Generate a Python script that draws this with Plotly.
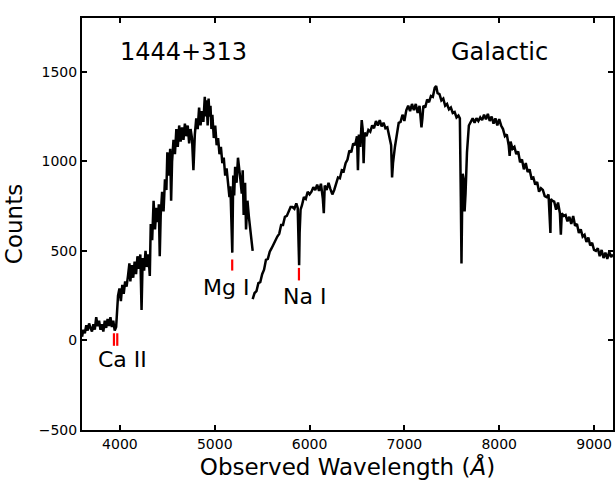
import plotly.graph_objects as go

# ---- Spectrum data ----
seg1_wave = [3600,3615,3630,3645,3660,3675,3690,3705,3720,3735,3750,3765,3780,3795,3810,3825,3840,3855,3870,3885,
             3900,3915,3930,3945,3960,3970,3980,3995,4010,4025,4040,4055,4070,4085,4100,4110,4125,4140,4155,4170,
             4185,4200,4215,4228,4240,4255,4270,4285,4300,4315,4325,4340,4355,4370,4385,4400,4410,4420,4430,4445,
             4460,4475,4490,4500,4515,4530,4540,4550,4565,4580,4595,4610,4625,4640,4655,4670,4685,4700,4715,4730,
             4745,4760,4775,4790,4805,4820,4835,4850,4865,4880,4895,4905,4915,4925,4935,4945,4955,4965,4975,4990,
             5005,5020,5035,5050,5065,5080,5095,5110,5125,5140,5155,5165,5175,5185,5195,5205,5215,5230,5245,5255,
             5270,5285,5295,5305,5320,5330,5345,5360,5375,5390,5400]
seg1_counts = [20,60,40,85,55,95,70,50,90,60,130,80,110,60,90,50,110,70,120,80,
               130,75,110,55,75,150,250,290,220,310,260,330,300,360,430,330,420,350,440,370,
               470,400,480,170,460,390,500,410,480,360,650,560,780,620,740,660,760,470,700,830,
               720,900,840,1050,920,1070,780,1000,1120,1040,1180,1080,1200,1110,1190,1120,1210,1140,1200,1100,
               1180,1130,950,1150,1240,1180,1300,1200,1280,1220,1360,1250,1340,1200,1350,1250,1310,1180,1260,1130,
               1200,1090,1130,1040,1080,990,1020,920,960,880,800,860,600,490,920,810,970,880,1020,950,
               900,820,950,700,880,620,780,690,620,560,500]

seg2_wave = [5400,5420,5440,5460,5480,5500,5520,5540,5560,5580,5600,5620,5640,5660,5680,5700,5720,5740,5760,5780,
             5800,5820,5840,5860,5875,5885,5890,5895,5905,5920,5940,5960,5980,6000,6020,6040,6060,6080,6100,6120,
             6140,6150,6160,6180,6200,6220,6240,6260,6280,6300,6320,6340,6360,6380,6400,6420,6440,6460,6480,6500,
             6510,6520,6535,6550,6560,6570,6580,6600,6620,6640,6660,6680,6700,6720,6740,6760,6780,6800,6820,6840,
             6860,6870,6880,6900,6920,6940,6960,6980,7000,7020,7040,7060,7080,7100,7120,7140,7160,7180,7190,7200,
             7220,7240,7260,7280,7300,7320,7335,7350,7370,7390,7410,7430,7450,7470,7490,7510,7530,7550,7570,7585,
             7595,7602,7608,7615,7625,7635,7645,7660,7680,7700,7720,7740,7760,7780,7800,7820,7840,7860,7880,7900,
             7920,7940,7960,7980,8000,8020,8040,8060,8080,8100,8110,8120,8140,8160,8180,8200,8220,8240,8260,8280,
             8300,8320,8340,8360,8380,8400,8420,8440,8460,8480,8500,8520,8535,8540,8545,8560,8580,8600,8620,8640,
             8650,8660,8680,8700,8720,8740,8760,8780,8800,8820,8840,8860,8880,8900,8920,8940,8960,8980,9000,9020,
             9040,9060,9080,9100,9120,9140,9160,9180,9200]
seg2_counts = [230,265,275,320,325,370,395,450,455,495,515,540,555,580,595,645,645,690,695,725,
               745,745,735,765,740,520,420,600,730,755,800,790,830,815,830,855,840,870,835,875,
               790,710,865,840,880,845,815,840,875,910,905,950,945,990,1010,1060,1050,1100,1090,1140,
               950,1150,1080,1230,1180,990,1160,1140,1175,1165,1200,1185,1225,1200,1230,1195,1215,1185,1190,1140,
               1090,910,990,1080,1150,1215,1220,1260,1225,1285,1310,1280,1320,1285,1320,1270,1310,1190,1240,1310,
               1300,1345,1330,1365,1360,1410,1420,1380,1375,1340,1350,1310,1320,1290,1300,1270,1275,1245,1255,1240,
               800,430,700,930,900,720,820,1050,1200,1220,1240,1215,1240,1225,1245,1230,1260,1235,1265,1225,
               1250,1210,1240,1200,1235,1200,1180,1140,1150,1090,1030,1110,1070,1080,1040,1055,995,1010,955,990,
               940,955,905,910,870,885,830,850,840,805,800,815,650,600,790,780,775,730,770,710,
               590,710,695,700,665,690,650,695,640,650,600,620,580,590,550,575,530,545,505,500,
               515,470,505,460,490,455,495,465,480]

# ---- Line identification marks ----
mark_wave = [3937, 3972, 5184, 5888]
mark_lo = [-30, -30, 390, 335]
mark_hi = [40, 40, 452, 405]

# ---- Text labels ----
label_text = ["1444+313", "Galactic", "Mg I", "Na I", "Ca II"]
label_x = [4670, 8000, 5114, 5945, 4025]
label_y = [1611, 1611, 296, 246, -106]
label_size = [24, 24, 22, 22, 22]

xtick_vals = [4000, 5000, 6000, 7000, 8000, 9000]
ytick_vals = [-500, 0, 500, 1000, 1500]

fig = go.Figure()
for w, c in [(seg1_wave, seg1_counts), (seg2_wave, seg2_counts)]:
    fig.add_trace(go.Scatter(x=w, y=c, mode="lines",
                             line=dict(color="black", width=2.5),
                             showlegend=False, hoverinfo="skip"))
for mw, lo, hi in zip(mark_wave, mark_lo, mark_hi):
    fig.add_trace(go.Scatter(x=[mw, mw], y=[lo, hi], mode="lines",
                             line=dict(color="red", width=2.2),
                             showlegend=False, hoverinfo="skip"))

for t, x, y, s in zip(label_text, label_x, label_y, label_size):
    fig.add_annotation(x=x, y=y, text=t, showarrow=False,
                       font=dict(size=s, color="black", family="DejaVu Sans"),
                       xanchor="center", yanchor="middle")

axis_common = dict(showline=True, mirror="ticks", linecolor="black", linewidth=2,
                   ticks="inside", ticklen=5, tickwidth=1.5, tickcolor="black",
                   showgrid=False, zeroline=False,
                   tickfont=dict(size=14, color="black", family="DejaVu Sans"))

fig.update_xaxes(range=[3600, 9200], tickvals=xtick_vals,
                 title=dict(text="Observed Wavelength (<i>Å</i>)",
                            font=dict(size=23, color="black", family="DejaVu Sans"),
                            standoff=8),
                 **axis_common)
fig.update_yaxes(range=[-500, 1800], tickvals=ytick_vals,
                 ticktext=["\u2212500", "0", "500", "1000", "1500"],
                 title=dict(text="Counts",
                            font=dict(size=23, color="black", family="DejaVu Sans"),
                            standoff=10),
                 **axis_common)

fig.update_layout(width=615, height=484,
                  margin=dict(l=82, r=0, t=18, b=54),
                  plot_bgcolor="white", paper_bgcolor="white",
                  font=dict(family="DejaVu Sans"))

fig.write_html("out.html")
